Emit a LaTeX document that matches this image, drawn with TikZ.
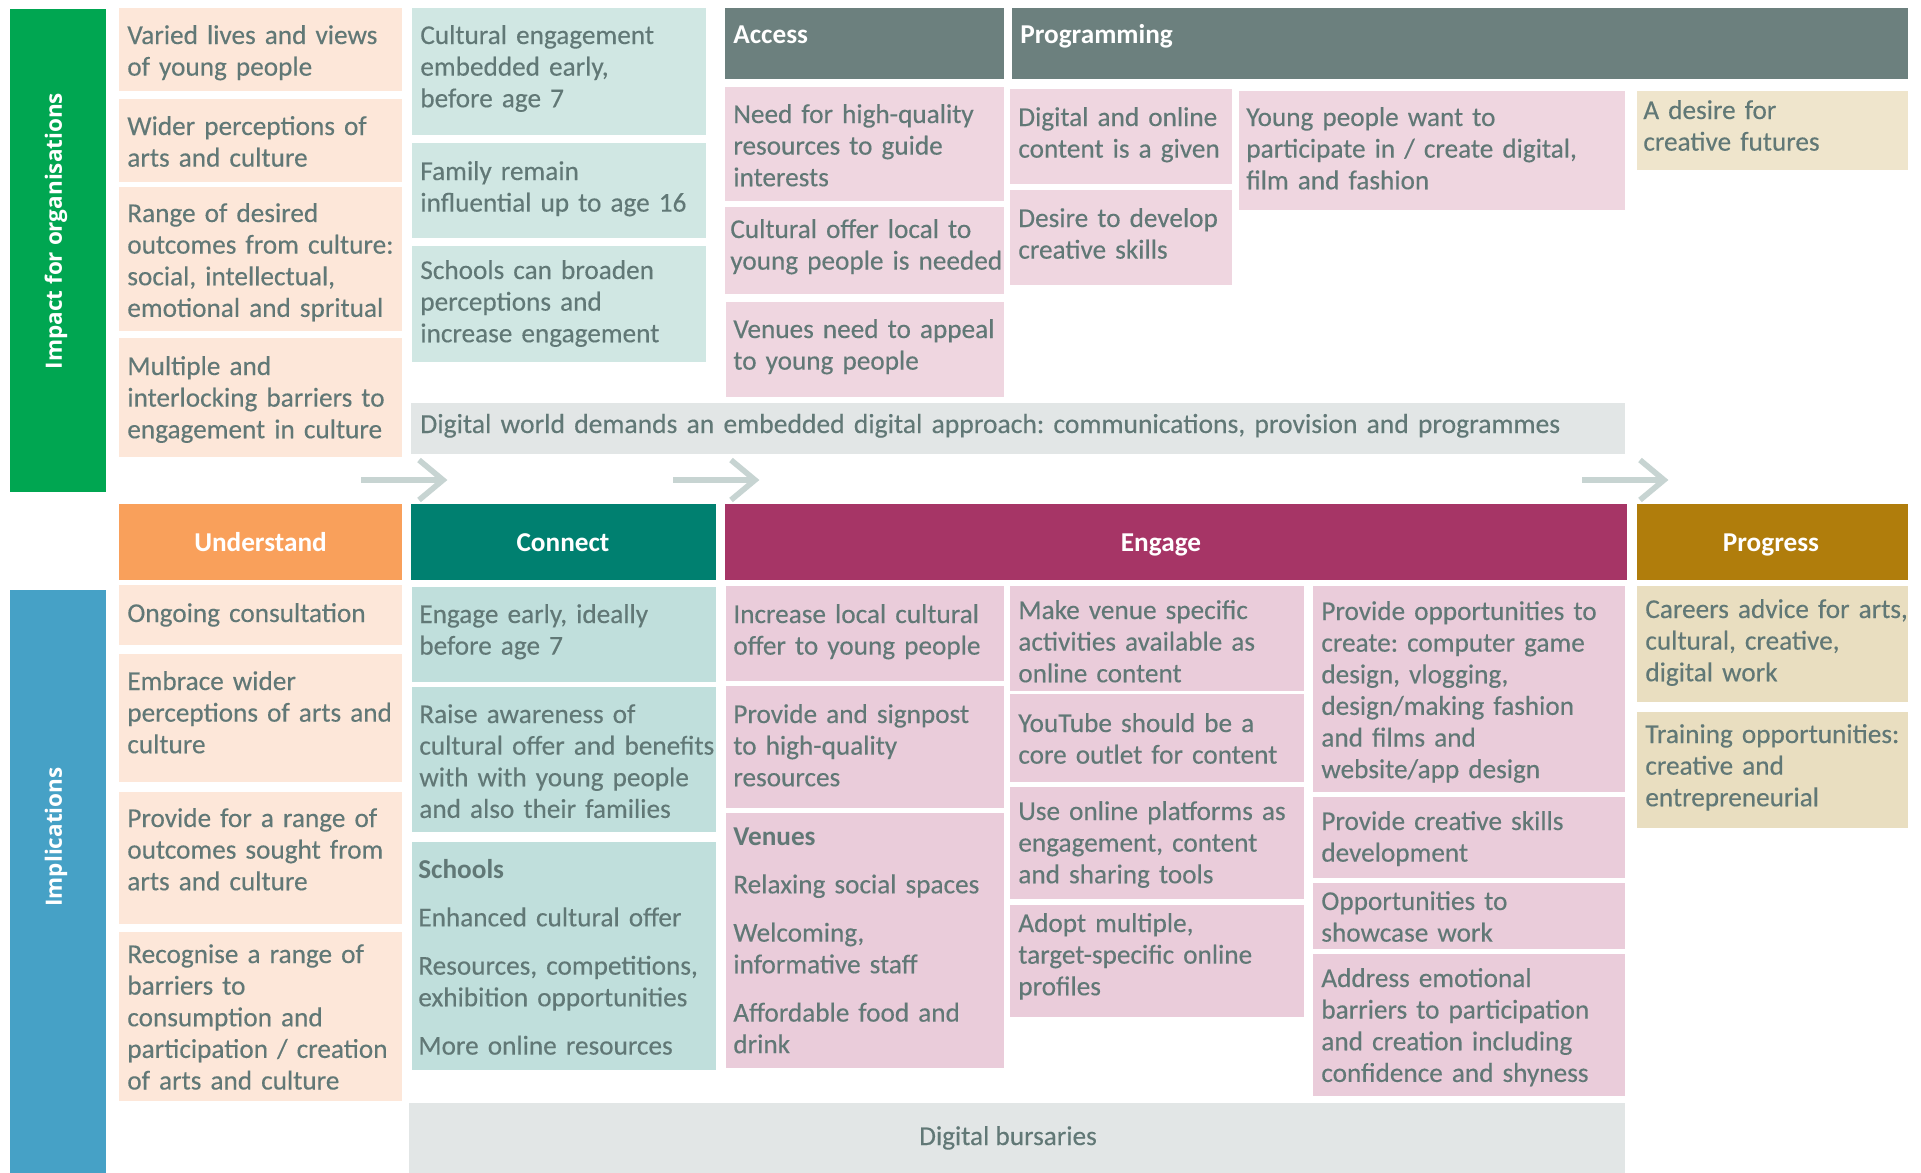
\documentclass[tikz,border=0pt]{standalone}
\usepackage{fontspec}
\setmainfont{Carlito}[UprightFeatures={FakeBold=0.3}]
\newfontfamily\sidefont{Open Sans}
\frenchspacing
\definecolor{impgreen}{RGB}{0,166,81}
\definecolor{impblue}{RGB}{70,161,198}
\definecolor{peach}{RGB}{253,231,217}
\definecolor{tealtop}{RGB}{208,231,227}
\definecolor{tealbot}{RGB}{192,223,220}
\definecolor{pinktop}{RGB}{239,214,224}
\definecolor{pinkbot}{RGB}{234,204,218}
\definecolor{beigetop}{RGB}{239,229,204}
\definecolor{beigebot}{RGB}{233,222,192}
\definecolor{slate}{RGB}{108,128,126}
\definecolor{barfill}{RGB}{226,230,230}
\definecolor{understandc}{RGB}{249,160,91}
\definecolor{connectc}{RGB}{0,128,112}
\definecolor{engagec}{RGB}{166,53,102}
\definecolor{progressc}{RGB}{176,125,12}
\definecolor{txtc}{RGB}{97,120,118}
\definecolor{arrowc}{RGB}{199,212,210}
\begin{document}
\begin{tikzpicture}[x=0.02cm,y=-0.02cm,
  txt/.style={anchor=base west,inner sep=0pt,text width=7cm,align=left,text=txtc,font=\fontsize{15.5}{18}\selectfont},
  head/.style={anchor=base,inner sep=0pt,text=white,font=\bfseries\fontsize{15.5}{18}\selectfont},
  headl/.style={head,anchor=base west},
  side/.style={rotate=90,inner sep=0pt,text=white,font=\sidefont\bfseries\fontsize{12.8}{15}\selectfont},
  flow/.style={arrowc,line width=3.2pt,line join=miter}]
\useasboundingbox (0,0) rectangle (1921,1173);
\fill[impgreen] (10,9) rectangle (106,492);
\node[side] (impact) at (56,231) {Impact for organisations};
\fill[impblue] (10,590) rectangle (106,1173);
\node[side] (implic) at (56,837) {Implications};

\fill[peach] (119,8) rectangle (402,91);
\node[txt] (lives) at (127,44) {Varied lives and views\\of young people};
\fill[peach] (119,99) rectangle (402,182);
\node[txt] (wider) at (127,135) {Wider perceptions of\\arts and culture};
\fill[peach] (119,187) rectangle (402,331);
\node[txt] (range) at (127,222) {Range of desired\\outcomes from culture:\\social, intellectual,\\emotional and spritual};
\fill[peach] (119,338) rectangle (402,457);
\node[txt] (barriers) at (127,375) {Multiple and\\interlocking barriers to\\engagement in culture};

\fill[tealtop] (412,8) rectangle (706,135);
\node[txt] (early) at (420,44) {Cultural engagement\\embedded early,\\before age 7};
\fill[tealtop] (412,143) rectangle (706,238);
\node[txt] (family) at (420,180) {Family remain\\influential up to age 16};
\fill[tealtop] (412,246) rectangle (706,362);
\node[txt] (schools) at (420,279) {Schools can broaden\\perceptions and\\increase engagement};

\fill[slate] (725,8) rectangle (1004,79);
\node[headl] (access) at (733,43) {Access};
\fill[slate] (1012,8) rectangle (1908,79);
\node[headl] (program) at (1020,43) {Programming};

\fill[pinktop] (725,87) rectangle (1004,201);
\node[txt] (need) at (733,123) {Need for high-quality\\resources to guide\\interests};
\fill[pinktop] (725,207) rectangle (1004,294);
\node[txt] (local) at (730,238) {Cultural offer local to\\young people is needed};
\fill[pinktop] (726,302) rectangle (1004,397);
\node[txt] (venues) at (733,338) {Venues need to appeal\\to young people};
\fill[pinktop] (1010,89) rectangle (1232,184);
\node[txt] (online) at (1018,126) {Digital and online\\content is a given};
\fill[pinktop] (1010,190) rectangle (1232,285);
\node[txt] (skills) at (1018,227) {Desire to develop\\creative skills};
\fill[pinktop] (1239,91) rectangle (1625,210);
\node[txt] (create) at (1246,126) {Young people want to\\participate in / create digital,\\film and fashion};
\fill[beigetop] (1637,91) rectangle (1908,170);
\node[txt] (futures) at (1643,119) {A desire for\\creative futures};

\fill[barfill] (411,403) rectangle (1625,454);
\node[txt,text width=25cm,font=\fontsize{15.7}{18}\selectfont] (digworld) at (420,433) {Digital world demands an embedded digital approach: communications, provision and programmes};

\coordinate (a1s) at (361,480);
\coordinate (a1e) at (443,480);
\coordinate (a2s) at (673,480);
\coordinate (a2e) at (755,480);
\coordinate (a3s) at (1582,480);
\coordinate (a3e) at (1664,480);
\draw[flow] (a1s) -- (a1e);
\draw[flow] (a1e) ++(-24,-20) -- (a1e) -- ++(-24,20);
\draw[flow] (a2s) -- (a2e);
\draw[flow] (a2e) ++(-24,-20) -- (a2e) -- ++(-24,20);
\draw[flow] (a3s) -- (a3e);
\draw[flow] (a3e) ++(-24,-20) -- (a3e) -- ++(-24,20);

\fill[understandc] (119,504) rectangle (402,580);
\node[head] (understand) at (260.5,551) {Understand};
\fill[connectc] (411,504) rectangle (716,580);
\node[head] (connect) at (563,551) {Connect};
\fill[engagec] (725,504) rectangle (1627,580);
\node[head] (engage) at (1161,551) {Engage};
\fill[progressc] (1637,504) rectangle (1908,580);
\node[head] (progress) at (1771,551) {Progress};

\fill[peach] (119,585) rectangle (402,645);
\node[txt] (consult) at (127,622) {Ongoing consultation};
\fill[peach] (119,654) rectangle (402,782);
\node[txt] (embrace) at (127,690) {Embrace wider\\perceptions of arts and\\culture};
\fill[peach] (119,792) rectangle (402,924);
\node[txt] (outcomes) at (127,827) {Provide for a range of\\outcomes sought from\\arts and culture};
\fill[peach] (119,932) rectangle (402,1101);
\node[txt] (recognise) at (127,963) {Recognise a range of\\barriers to\\consumption and\\participation / creation\\of arts and culture};

\fill[tealbot] (412,587) rectangle (716,682);
\node[txt] (engearly) at (419,623) {Engage early, ideally\\before age 7};
\fill[tealbot] (412,687) rectangle (716,832);
\node[txt] (aware) at (419,723) {Raise awareness of\\cultural offer and benefits\\with with young people\\and also their families};
\fill[tealbot] (412,842) rectangle (716,1070);
\node[txt] (schoolsb) at (418,878) {\textbf{Schools}\\[9.5pt]Enhanced cultural offer\\[9.5pt]Resources, competitions,\\exhibition opportunities\\[9.5pt]More online resources};

\fill[pinkbot] (726,586) rectangle (1004,681);
\node[txt] (incr) at (733,623) {Increase local cultural\\offer to young people};
\fill[pinkbot] (726,686) rectangle (1004,808);
\node[txt] (signpost) at (733,723) {Provide and signpost\\to high-quality\\resources};
\fill[pinkbot] (726,813) rectangle (1004,1068);
\node[txt] (venuesb) at (733,845) {\textbf{Venues}\\[9.5pt]Relaxing social spaces\\[9.5pt]Welcoming,\\informative staff\\[9.5pt]Affordable food and\\drink};

\fill[pinkbot] (1010,586) rectangle (1304,691);
\node[txt] (venspec) at (1018,619) {Make venue specific\\activities available as\\online content};
\fill[pinkbot] (1010,694) rectangle (1304,782);
\node[txt] (youtube) at (1018,732) {YouTube should be a\\core outlet for content};
\fill[pinkbot] (1010,787) rectangle (1304,899);
\node[txt] (platforms) at (1018,820) {Use online platforms as\\engagement, content\\and sharing tools};
\fill[pinkbot] (1010,905) rectangle (1304,1017);
\node[txt] (profiles) at (1018,932) {Adopt multiple,\\target-specific online\\profiles};

\fill[pinkbot] (1313,586) rectangle (1625,792);
\node[txt] (opps) at (1321,620) {Provide opportunities to\\create: computer game\\design, vlogging,\\design/making fashion\\and films and\\website/app design};
\fill[pinkbot] (1313,797) rectangle (1625,878);
\node[txt] (develop) at (1321,830) {Provide creative skills\\development};
\fill[pinkbot] (1313,883) rectangle (1625,949);
\node[txt] (showcase) at (1321,910) {Opportunities to\\showcase work};
\fill[pinkbot] (1313,954) rectangle (1625,1096);
\node[txt] (emotion) at (1321,987) {Address emotional\\barriers to participation\\and creation including\\confidence and shyness};

\fill[beigebot] (1637,586) rectangle (1908,702);
\node[txt] (careers) at (1645,618) {Careers advice for arts,\\cultural, creative,\\digital work};
\fill[beigebot] (1637,712) rectangle (1908,828);
\node[txt] (training) at (1645,743) {Training opportunities:\\creative and\\entrepreneurial};

\fill[barfill] (409,1103) rectangle (1625,1173);
\node[head,text=txtc,font=\fontsize{15.5}{18}\selectfont] (bursary) at (1008,1145) {Digital bursaries};
\end{tikzpicture}
\end{document}
